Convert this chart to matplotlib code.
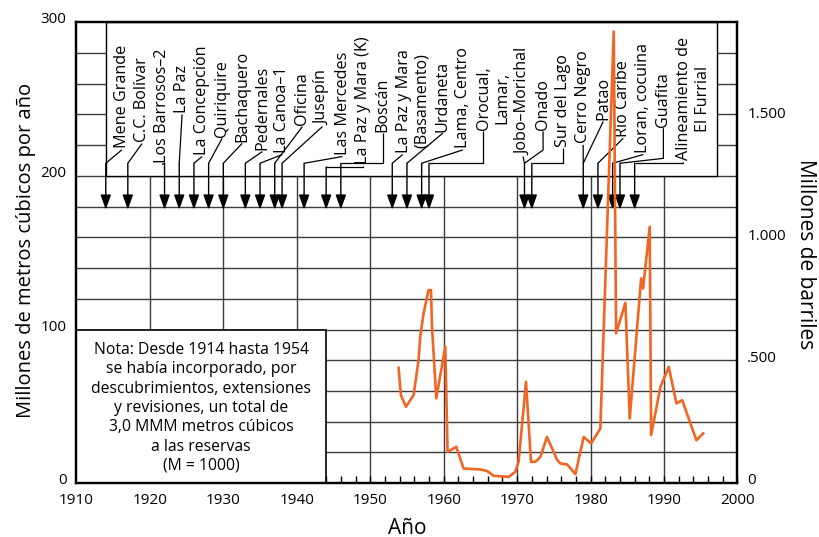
import matplotlib
matplotlib.use('Agg')
import matplotlib.pyplot as plt
from matplotlib.patches import Rectangle
from matplotlib.transforms import ScaledTranslation

plt.rcParams['font.family'] = ['Open Sans', 'DejaVu Sans']

# ---------------- data ----------------
years = [1953.86, 1954.18, 1954.86, 1955.90, 1956.58, 1956.81, 1957.26, 1957.94,
         1958.27, 1958.41, 1958.99, 1960.22, 1960.53, 1961.72, 1962.71, 1965.0,
         1965.9, 1966.8, 1968.84, 1969.75, 1970.2, 1971.21, 1971.89, 1972.48,
         1973.16, 1974.07, 1975.44, 1975.89, 1976.8, 1977.93, 1979.06, 1980.07,
         1981.33, 1983.15, 1983.47, 1984.74, 1985.33, 1986.88, 1987.15, 1988.05,
         1988.24, 1989.51, 1990.64, 1991.69, 1992.47, 1994.41, 1995.33]
reserves = [75.1, 57.3, 49.7, 57.3, 80.1, 95.3, 110.5, 125.7,
            125.7, 101.8, 55.2, 88.8, 20.4, 23.7, 9.6, 8.9,
            8.0, 4.8, 4.1, 7.4, 13.9, 66.0, 13.9, 13.9,
            17.1, 30.1, 15.2, 12.8, 12.2, 5.9, 30.1, 25.9,
            35.6, 293.9, 97.5, 117.4, 42.1, 133.3, 126.8, 166.9,
            31.3, 62.7, 75.7, 51.9, 54.0, 28.0, 32.4]

field_labels = ['Mene Grande', 'C.C. Bolívar', 'Los Barrosos\u20132', 'La Paz',
                'La Concepción', 'Quiriquire', 'Bachaquero', 'Pedernales',
                'La Canoa\u20131', 'Oficina', 'Jusepín', 'Las Mercedes',
                'La Paz y Mara (K)', 'Boscán', 'La Paz y Mara\n(Basamento)',
                'Urdaneta', 'Lama, Centro', 'Orocual,\nLamar,', 'Jobo\u2013Morichal',
                'Onado', 'Sur del Lago', 'Cerro Negro', 'Patao', 'Río Caribe',
                'Loran, cocuina', 'Guafita', 'Alineamiento de\nEl Furrial']
discovery_years = [1914, 1917, 1922, 1924, 1926, 1928, 1930, 1933, 1935, 1937,
                   1938, 1941, 1944, 1946, 1953, 1955, 1957, 1958, 1971, 1971,
                   1972, 1979, 1979, 1981, 1983, 1984, 1986]

x_ticks = list(range(1910, 2001, 10))
left_ticks = [0, 100, 200, 300]
left_tick_labels = ['0', '100', '200', '300']
right_ticks = [0, 500, 1000, 1500]
right_tick_labels = ['0', '.500', '1.000', '1.500']
M3_TO_BBL = 6.29

note_text = ('Nota: Desde 1914 hasta 1954\nse había incorporado, por\n'
             'descubrimientos, extensiones\ny revisiones, un total de\n'
             '3,0 MMM metros cúbicos\na las reservas\n(M = 1000)')

# ---------------- layout (annotation geometry) ----------------
text_bottom = [218, 222, 208.4, 241, 213.6, 225.5, 222.2, 216.8, 214.9, 233.1,
               233.1, 213.6, 207.5, 228.8, 214.9, 228.8, 217.9, 229.9, 213.6,
               229.9, 219, 221.2, 236.4, 225.5, 214.9, 232, 210.3]
# None = straight diagonal; number = vertical down to that level first
leader_knee = [None, None, None, None, None, None, None, None, None, None,
               None, None, 205.8, 208.2, None, None, None, 208.2, None,
               216.8, 208.2, None, None, None, None, 211.4, 208.2]
leader_join = [208.2] * len(field_labels)
leader_join[12] = 205.8
COL0, COLSTEP = 1916.2, 2.73
ARROW_TIP = 178

LINE_COLOR = '#F26522'
GRID = '#3c3c3c'

fig = plt.figure(figsize=(8.2, 5.37), dpi=100)
ax = fig.add_axes([0.09317, 0.10019, 0.80622, 0.85847])
ax.set_xlim(1910, 2000)
ax.set_ylim(0, 300)

# grid
ax.hlines(range(20, 300, 20), 1910, 2000, color=GRID, lw=1.0, zorder=1)
ax.vlines(range(1920, 2000, 10), 0, 300, color=GRID, lw=1.0, zorder=1)

# label box and note box
ax.add_patch(Rectangle((1914, 200), 1997.2 - 1914, 100, fc='white', ec='black',
                       lw=1.0, zorder=2))
ax.add_patch(Rectangle((1910, 0), 34, 100, fc='white', ec='black', lw=1.2, zorder=2))
ax.text(1927.0, 49, note_text, ha='center', va='center', fontsize=11.3,
        linespacing=1.28, zorder=3)

# field labels + leaders
col = 0
for lab, dy, yb, knee, join in zip(field_labels, discovery_years, text_bottom,
                                   leader_knee, leader_join):
    n = lab.count('\n') + 1
    first_x = COL0 + COLSTEP * col
    cx = COL0 + COLSTEP * (col + (n - 1) / 2)
    col += n
    ax.text(cx, yb, lab, rotation=90, ha='center', va='bottom', fontsize=11.6,
            linespacing=1.18, multialignment='center', zorder=3)
    ys = yb - 1.0
    xs = [first_x, first_x, dy] if knee is not None else [first_x, dy]
    yv = [ys, knee, join] if knee is not None else [ys, join]
    ax.plot(xs, yv, color='black', lw=0.9, zorder=3, solid_capstyle='butt')

for dy, join in sorted(set(zip(discovery_years, leader_join))):
    ax.annotate('', xy=(dy, ARROW_TIP), xytext=(dy, join),
                arrowprops=dict(arrowstyle='-|>,head_length=0.9,head_width=0.32',
                                color='black', lw=1.0, shrinkA=0, shrinkB=0),
                zorder=3)

# data
ax.plot(years, reserves, color=LINE_COLOR, lw=1.9, zorder=4, solid_joinstyle='round')

# axes styling
for s in ax.spines.values():
    s.set_linewidth(1.6)
    s.set_zorder(6)
ax.set_xticks(x_ticks)
ax.set_xticklabels([str(t) for t in x_ticks], fontsize=11)
ax.set_xticks(range(1910, 2001, 2), minor=True)
ax.tick_params(axis='x', which='both', direction='in', length=5, width=1.0, pad=7)
ax.set_yticks(left_ticks)
ax.set_yticklabels(left_tick_labels, fontsize=11)
ax.tick_params(axis='y', which='both', length=0, pad=7)

ax2 = ax.twinx()
ax2.set_ylim(0, 300 * M3_TO_BBL)
ax2.set_yticks(right_ticks)
ax2.set_yticklabels(right_tick_labels, fontsize=11)
ax2.tick_params(axis='y', length=0, pad=7)
for s in ax2.spines.values():
    s.set_linewidth(1.6)

off = ScaledTranslation(0, 0.045, fig.dpi_scale_trans)
for lbl in ax.get_yticklabels() + ax2.get_yticklabels():
    lbl.set_transform(lbl.get_transform() + off)

fig.text(26 / 820, 1 - 250 / 537, 'Millones de metros cúbicos por año', rotation=90,
         ha='center', va='center', fontsize=14.5)
fig.text(806 / 820, 1 - 254 / 537, 'Millones de barriles', rotation=270,
         ha='center', va='center', fontsize=15)
fig.text(406.8 / 820, 1 - 528 / 537, 'Año', ha='center', va='center', fontsize=15)

fig.savefig('out.png', dpi=100)
